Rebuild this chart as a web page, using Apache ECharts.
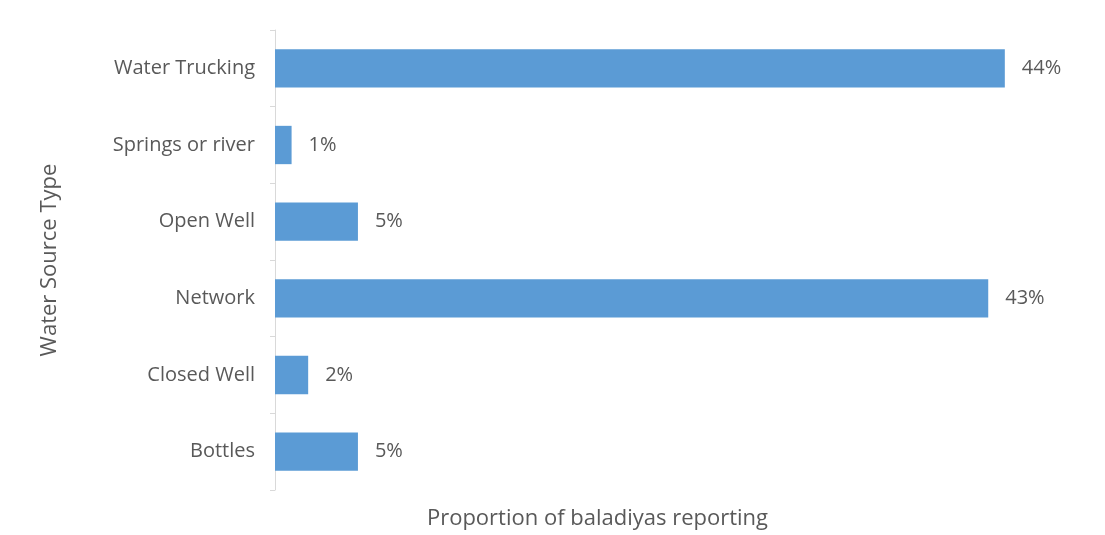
<!DOCTYPE html>
<html>
<head>
<meta charset="utf-8">
<script src="https://cdn.jsdelivr.net/npm/echarts@6/dist/echarts.min.js"></script>
<style>
  html, body { margin: 0; padding: 0; background: #ffffff; }
  #chart { width: 1105px; height: 535px; }
</style>
</head>
<body>
<div id="chart"></div>
<script>
// Water source types, listed top to bottom
const categories = ['Water Trucking', 'Springs or river', 'Open Well', 'Network', 'Closed Well', 'Bottles'];
// Proportion of baladiyas reporting each source (%)
const proportions = [44, 1, 5, 43, 2, 5];

const textColor = '#595959';
const fontFamily = '"Open Sans", "Liberation Sans", sans-serif';

const chart = echarts.init(document.getElementById('chart'), null, { renderer: 'canvas' });

chart.setOption({
  animation: false,
  backgroundColor: '#ffffff',
  grid: { left: 275, right: 67, top: 30, bottom: 43, containLabel: false },
  xAxis: {
    type: 'value',
    min: 0,
    max: 46,
    name: 'Proportion of baladiyas reporting',
    nameLocation: 'middle',
    nameGap: 18,
    nameTextStyle: {
      color: textColor, fontSize: 22, fontFamily: fontFamily,
      padding: [0, 118, 0, 0]
    },
    axisLine: { show: false },
    axisTick: { show: false },
    axisLabel: { show: false },
    splitLine: { show: false }
  },
  yAxis: {
    type: 'category',
    data: categories,
    inverse: true,
    name: 'Water Source Type',
    nameLocation: 'middle',
    nameRotate: 90,
    nameGap: 214,
    nameTextStyle: { color: textColor, fontSize: 22, fontFamily: fontFamily },
    axisLine: { show: true, lineStyle: { color: '#d9d9d9', width: 1 } },
    axisTick: { show: true, length: 5, lineStyle: { color: '#d9d9d9' } },
    axisLabel: { color: textColor, fontSize: 20, fontFamily: fontFamily, margin: 20 },
    splitLine: { show: false }
  },
  series: [{
    type: 'bar',
    data: proportions,
    barCategoryGap: '50%',
    itemStyle: { color: '#5b9bd5' },
    label: {
      show: true,
      position: 'right',
      distance: 17,
      formatter: p => p.value + '%',
      color: textColor,
      fontSize: 20,
      fontFamily: fontFamily
    }
  }]
});
</script>
</body>
</html>
